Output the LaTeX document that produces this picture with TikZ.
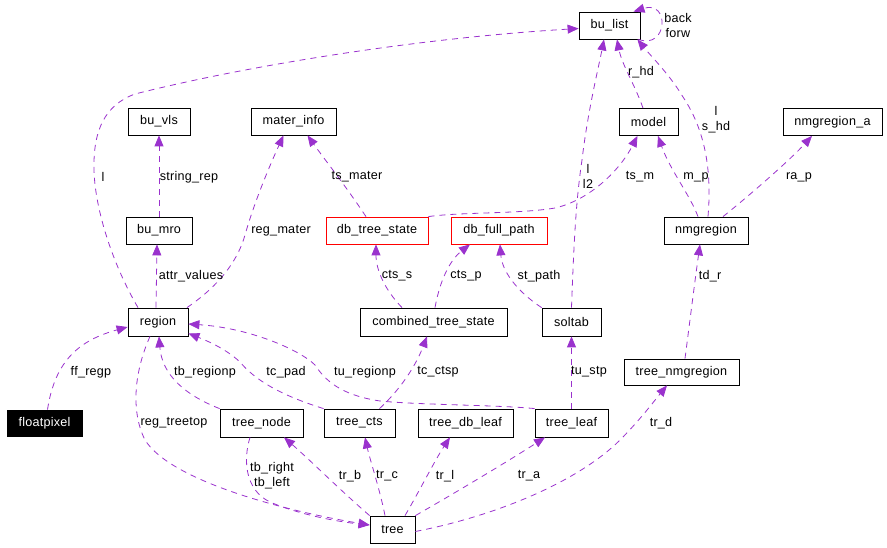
\documentclass[tikz,border=0pt]{standalone}
\usepackage{fontspec}
\setmainfont{Liberation Sans}[LetterSpace=2]
\usetikzlibrary{arrows.meta}
\definecolor{edgecol}{HTML}{9A32CD}
\newcommand{\dxfont}{\fontsize{12.6}{15}\selectfont}
\tikzset{
  box/.style={draw=black, line width=0.8pt, minimum height=27pt, inner sep=0pt, font=\dxfont, fill=white},
  redbox/.style={box, draw=red},
  blackbox/.style={box, fill=black, text=white},
  edge/.style={draw=edgecol, line width=0.8pt, dash pattern=on 6pt off 5pt, -{Triangle[length=11pt,width=9pt]}},
  lbl/.style={font=\dxfont, inner sep=0pt, align=center}
}
\begin{document}
\begin{tikzpicture}[x=1pt,y=-1pt]
\useasboundingbox (0,0) rectangle (887,548);
% nodes
\node[box, minimum width=61pt] (bu_list) at (609.5,25.5) {bu\_list};
\node[box, minimum width=62pt] (bu_vls) at (159,121.5) {bu\_vls};
\node[box, minimum width=85pt] (mater_info) at (293.5,121.5) {mater\_info};
\node[box, minimum width=59pt] (model) at (648.5,122) {model};
\node[box, minimum width=99pt] (nmgregion_a) at (832.5,122) {nmgregion\_a};
\node[box, minimum width=66pt] (bu_mro) at (159,230.5) {bu\_mro};
\node[redbox, minimum width=102pt] (db_tree_state) at (377,230.5) {db\_tree\_state};
\node[redbox, minimum width=96pt] (db_full_path) at (499,230.5) {db\_full\_path};
\node[box, minimum width=84pt] (nmgregion) at (706,230.5) {nmgregion};
\node[box, minimum width=60pt, minimum height=28pt] (region) at (158,322) {region};
\node[box, minimum width=147pt, minimum height=28pt] (combined_tree_state) at (433.5,322) {combined\_tree\_state};
\node[box, minimum width=59pt, minimum height=28pt] (soltab) at (571.5,322) {soltab};
\node[box, minimum width=115pt, minimum height=26pt] (tree_nmgregion) at (681.5,372) {tree\_nmgregion};
\node[blackbox, minimum width=75pt, minimum height=26pt] (floatpixel) at (44.5,423) {floatpixel};
\node[box, minimum width=83pt, minimum height=28pt] (tree_node) at (261.5,423) {tree\_node};
\node[box, minimum width=71pt, minimum height=28pt] (tree_cts) at (359.5,423) {tree\_cts};
\node[box, minimum width=95pt, minimum height=28pt] (tree_db_leaf) at (465.5,423) {tree\_db\_leaf};
\node[box, minimum width=73pt, minimum height=28pt] (tree_leaf) at (571.5,423) {tree\_leaf};
\node[box, minimum width=45pt] (tree) at (392.5,529.5) {tree};

% edges
\draw[edge] ([xshift=-20pt]region.north) .. controls (113,265) and (95,210) .. (94,170)
  .. controls (93,130) and (105,105) .. (135,94)
  .. controls (250,65) and (420,38) .. ([yshift=-3pt]bu_list.west);
\draw[edge] (bu_mro.north) -- (bu_vls.south);
\draw[edge] ([xshift=-2pt]region.north) -- ([xshift=-2pt]bu_mro.south);
\draw[edge] ([xshift=29pt]region.north) .. controls (220,285) and (238,260) .. (245,235)
  .. controls (255,200) and (270,165) .. ([xshift=-10pt]mater_info.south);
\draw[edge] ([xshift=-11pt]db_tree_state.north) .. controls (345,185) and (325,160) .. ([xshift=14pt]mater_info.south);
\draw[edge] (db_tree_state.north east) .. controls (460,212) and (520,214) .. (555,208)
  .. controls (590,200) and (620,170) .. ([xshift=-11pt]model.south);
\draw[edge] ([xshift=-31.5pt]combined_tree_state.north) .. controls (385,290) and (376,270) .. ([xshift=-1pt]db_tree_state.south);
\draw[edge] ([xshift=1.5pt]combined_tree_state.north) .. controls (440,280) and (450,260) .. ([xshift=-29pt]db_full_path.south);
\draw[edge] (soltab.north west) .. controls (515,290) and (502,270) .. ([xshift=1pt]db_full_path.south);
\draw[edge] (soltab.north) .. controls (574,240) and (576,200) .. (582,160)
  .. controls (588,110) and (598,70) .. ([xshift=-5.5pt]bu_list.south);
\draw[edge] ([xshift=-5.5pt]model.north) .. controls (635,85) and (622,65) .. ([xshift=7.5pt]bu_list.south);
\draw[edge] ([xshift=2pt]nmgregion.north) .. controls (712,170) and (705,130) .. (683,97)
  .. controls (670,75) and (650,55) .. ([xshift=-3pt]bu_list.south east);
\draw[edge] ([xshift=-8pt]nmgregion.north) .. controls (690,195) and (670,170) .. ([xshift=9.5pt]model.south);
\draw[edge] ([xshift=17pt]nmgregion.north) .. controls (750,195) and (790,160) .. ([xshift=-20.5pt]nmgregion_a.south);
\draw[edge] ([xshift=3.5pt]tree_nmgregion.north) .. controls (690,320) and (695,280) .. ([xshift=-6pt]nmgregion.south);
\draw[edge] ([xshift=3pt]floatpixel.north) .. controls (55,360) and (80,340) .. ([yshift=-5pt]region.west);
\draw[edge] (tree_node.north west) .. controls (185,395) and (162,375) .. ([xshift=1pt]region.south);
\draw[edge] (tree_cts.north west) .. controls (280,395) and (255,380) .. (240,362)
  .. controls (225,348) and (205,340) .. ([yshift=3pt]region.south east);
\draw[edge] (tree_leaf.north west) .. controls (500,405) and (420,405) .. (380,401)
  .. controls (340,395) and (325,380) .. (315,365)
  .. controls (300,350) and (250,328) .. ([yshift=-2pt]region.east);
\draw[edge] ([xshift=20pt]tree_cts.north) .. controls (405,385) and (418,360) .. ([xshift=-6.5pt]combined_tree_state.south);
\draw[edge] (tree_leaf.north) -- (soltab.south);
\draw[edge] ([xshift=-8pt]region.south) .. controls (135,370) and (130,410) .. (145,440)
  .. controls (170,480) and (280,510) .. ([yshift=4.5pt]tree.west);
\draw[edge] ([xshift=-11.5pt]tree_node.south) .. controls (243,460) and (245,490) .. (270,502)
  .. controls (300,515) and (340,522) .. ([yshift=4.5pt]tree.west);
\draw[edge] (tree.north west) .. controls (340,490) and (310,460) .. ([xshift=22.5pt]tree_node.south);
\draw[edge] ([xshift=-7.5pt]tree.north) .. controls (380,490) and (370,460) .. ([xshift=5.5pt]tree_cts.south);
\draw[edge] ([xshift=12.5pt]tree.north) .. controls (420,490) and (435,460) .. ([xshift=-15.5pt]tree_db_leaf.south);
\draw[edge] (tree.north east) .. controls (460,490) and (510,460) .. ([xshift=-26.5pt]tree_leaf.south);
\draw[edge] ([yshift=-2pt]tree.east) .. controls (500,515) and (580,480) .. (620,440)
  .. controls (640,420) and (655,400) .. ([xshift=-14.5pt]tree_nmgregion.south);
\draw[edge] ([xshift=-2pt]bu_list.south east) .. controls (668,50) and (670,0) .. ([xshift=24pt]bu_list.north);

% labels
\node[lbl] (l_l1) at (103,177) {l};
\node[lbl] (l_sr) at (189,177) {string\_rep};
\node[lbl] (l_av) at (191,276) {attr\_values};
\node[lbl] (l_rm) at (281,231) {reg\_mater};
\node[lbl] (l_tsm) at (357,177) {ts\_mater};
\node[lbl] (l_ctss) at (397,276) {cts\_s};
\node[lbl] (l_ctsp) at (466,276) {cts\_p};
\node[lbl] (l_stp) at (539,276) {st\_path};
\node[lbl] (l_tdr) at (710,276) {td\_r};
\node[lbl] (l_tsm2) at (640,177) {ts\_m};
\node[lbl] (l_mp) at (696,177) {m\_p};
\node[lbl] (l_rap) at (799,177) {ra\_p};
\node[lbl] (l_ll2) at (588,176) {l\\l2};
\node[lbl] (l_rhd) at (641,72) {r\_hd};
\node[lbl] (l_shd) at (716,120) {l\\s\_hd};
\node[lbl] (l_bf) at (678,25) {back\\forw};
\node[lbl] (l_ff) at (91,372) {ff\_regp};
\node[lbl] (l_tbr) at (205,372) {tb\_regionp};
\node[lbl] (l_tcp) at (286,372) {tc\_pad};
\node[lbl] (l_tur) at (365,372) {tu\_regionp};
\node[lbl] (l_tcc) at (438,372) {tc\_ctsp};
\node[lbl] (l_tus) at (589,372) {tu\_stp};
\node[lbl] (l_rtt) at (174,423) {reg\_treetop};
\node[lbl] (l_tbrl) at (272,476) {tb\_right\\tb\_left};
\node[lbl] (l_trb) at (350,476) {tr\_b};
\node[lbl] (l_trc) at (387,476) {tr\_c};
\node[lbl] (l_trl) at (445,476) {tr\_l};
\node[lbl] (l_tra) at (529,476) {tr\_a};
\node[lbl] (l_trd) at (661,423) {tr\_d};
\end{tikzpicture}
\end{document}
